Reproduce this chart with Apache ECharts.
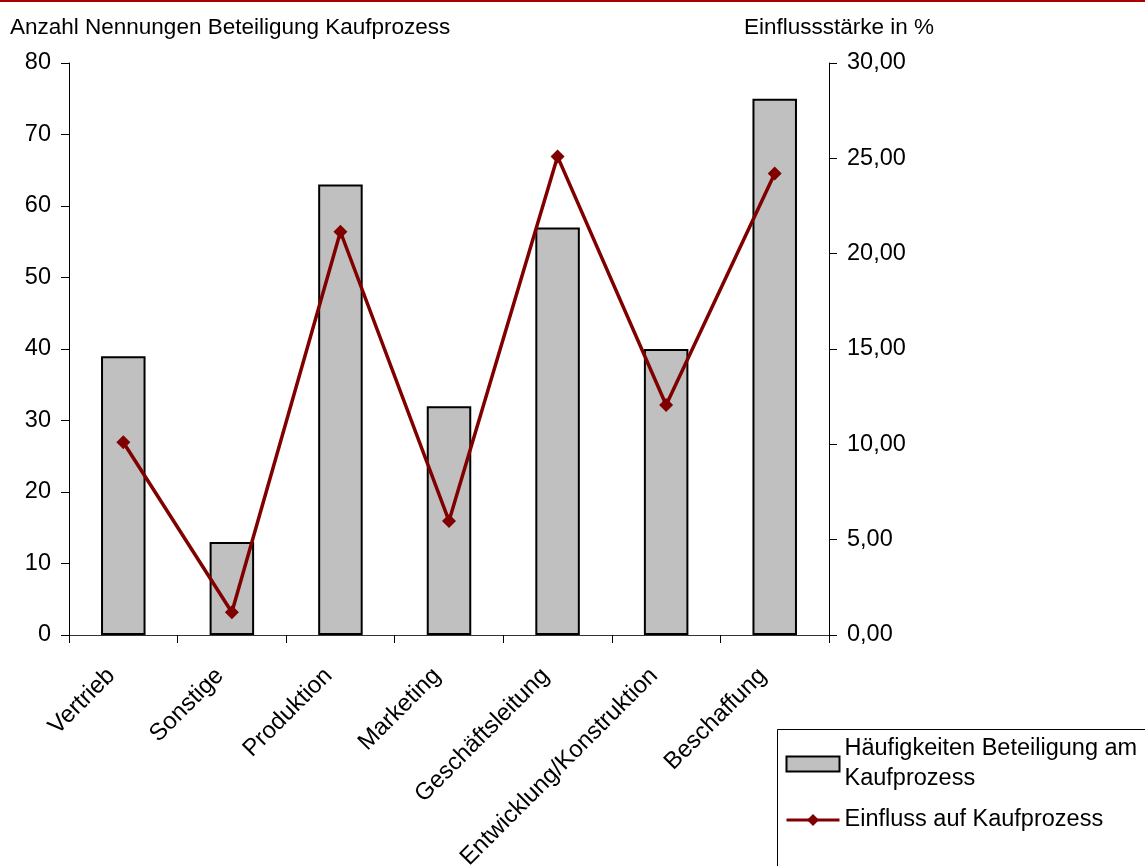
<!DOCTYPE html>
<html>
<head>
<meta charset="utf-8">
<script src="https://cdn.jsdelivr.net/npm/echarts@6/dist/echarts.min.js"></script>
<style>
  html, body { margin: 0; padding: 0; background: #fff; }
  #chart { width: 1145px; height: 866px; }
</style>
</head>
<body>
<div id="chart"></div>
<script>
// Abteilungen (Kategorien der x-Achse)
const categories = ['Vertrieb', 'Sonstige', 'Produktion', 'Marketing', 'Geschäftsleitung', 'Entwicklung/Konstruktion', 'Beschaffung'];
// Anzahl Nennungen: Beteiligung am Kaufprozess (linke Achse)
const haeufigkeiten = [39, 13, 63, 32, 57, 40, 75];
// Einflussstärke in % (rechte Achse)
const einfluss = [10.11, 1.19, 21.15, 5.98, 25.09, 12.06, 24.21];
// Achsenbeschriftungen
const leftAxisTitle = 'Anzahl Nennungen Beteiligung Kaufprozess';
const rightAxisTitle = 'Einflussstärke in %';
const barSeriesName = 'Häufigkeiten Beteiligung am Kaufprozess';
const lineSeriesName = 'Einfluss auf Kaufprozess';

const FONT = '"Liberation Sans", Arial, sans-serif';
const DARK_RED = '#800000';
const chart = echarts.init(document.getElementById('chart'), null, { renderer: 'canvas' });

const axisLineStyle = { show: true, lineStyle: { color: '#000', width: 1 } };
const titleStyle = { fontFamily: FONT, fontSize: 22.5, fontWeight: 'normal', color: '#000' };

chart.setOption({
  animation: false,
  backgroundColor: '#fff',
  textStyle: { fontFamily: FONT, color: '#000' },
  title: [
    { text: leftAxisTitle, left: 10, top: 16, padding: 0, textStyle: titleStyle },
    { text: rightAxisTitle, left: 744, top: 16, padding: 0, textStyle: titleStyle }
  ],
  graphic: [
    { type: 'rect', left: 0, top: 0, shape: { width: 1145, height: 2 }, style: { fill: '#a80000' }, silent: true },
    { type: 'rect', left: 775, top: 727, shape: { width: 400, height: 200 },
      style: { fill: 'none', stroke: '#000', lineWidth: 1 }, silent: true }
  ],
  legend: {
    orient: 'vertical',
    left: 785,
    top: 734,
    padding: 0,
    itemWidth: 53,
    itemHeight: 15,
    itemGap: 11,
    data: [
      { name: barSeriesName, icon: 'rect' },
      { name: lineSeriesName }
    ],
    lineStyle: { width: 3, color: DARK_RED },
    formatter: function (name) {
      return name === barSeriesName ? 'Häufigkeiten Beteiligung am\nKaufprozess' : name;
    },
    textStyle: { fontFamily: FONT, fontSize: 23.5, color: '#000', lineHeight: 30 },
    selectedMode: false
  },
  grid: { left: 69, right: 316, top: 63, bottom: 231, containLabel: false, outerBoundsMode: 'none' },
  xAxis: {
    type: 'category',
    data: categories,
    boundaryGap: true,
    axisLine: { show: true, lineStyle: { color: '#333', width: 1 } },
    axisTick: { show: true, length: 8, interval: 0, alignWithLabel: false, lineStyle: { color: '#000' } },
    axisLabel: { interval: 0, rotate: 45, margin: 25, fontSize: 24, color: '#000', fontFamily: FONT,
      padding: [0, 17, 0, 0] },
    splitLine: { show: false }
  },
  yAxis: [
    {
      type: 'value', min: 0, max: 80, interval: 10, position: 'left',
      axisLine: axisLineStyle,
      axisTick: { show: true, length: 8, lineStyle: { color: '#000' } },
      axisLabel: { margin: 18, fontSize: 23.5, color: '#000', fontFamily: FONT },
      splitLine: { show: false }
    },
    {
      type: 'value', min: 0, max: 30, interval: 5, position: 'right',
      axisLine: axisLineStyle,
      axisTick: { show: true, length: 8, lineStyle: { color: '#000' } },
      axisLabel: { margin: 18, fontSize: 23.5, color: '#000', fontFamily: FONT,
        formatter: function (v) { return v.toFixed(2).replace('.', ','); } },
      splitLine: { show: false }
    }
  ],
  series: [
    {
      name: barSeriesName,
      type: 'bar',
      yAxisIndex: 0,
      data: haeufigkeiten,
      barWidth: '41%',
      itemStyle: { color: '#c0c0c0', borderColor: '#000', borderWidth: 2 }
    },
    {
      name: lineSeriesName,
      type: 'line',
      yAxisIndex: 1,
      data: einfluss,
      symbol: 'diamond',
      symbolSize: 14,
      lineStyle: { color: DARK_RED, width: 3.5 },
      itemStyle: { color: DARK_RED }
    }
  ]
});
</script>
</body>
</html>
